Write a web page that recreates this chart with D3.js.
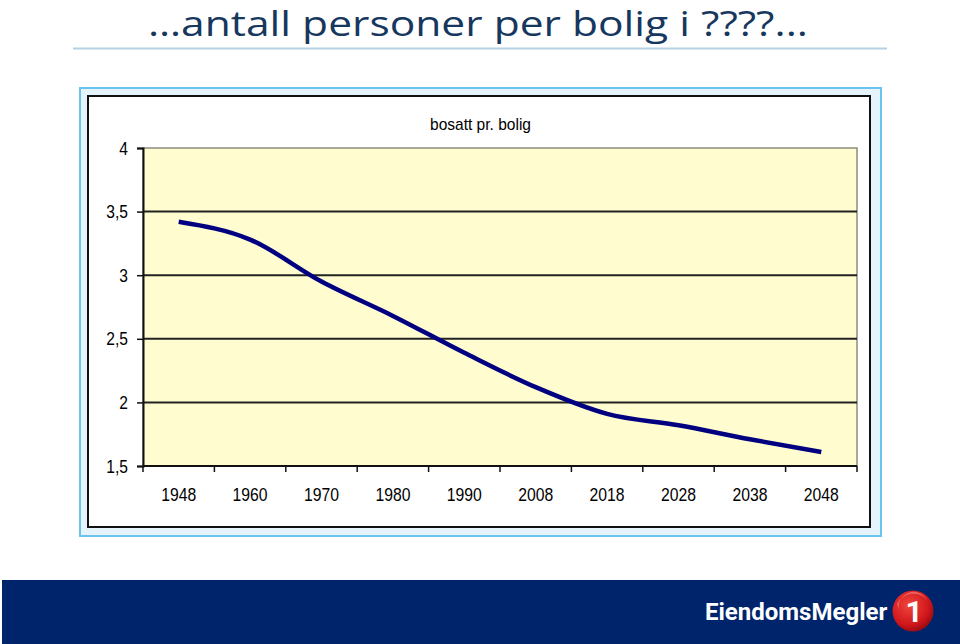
<!DOCTYPE html>
<html>
<head>
<meta charset="utf-8">
<script src="https://cdn.jsdelivr.net/npm/d3@7/dist/d3.min.js"></script>
<style>
  html, body { margin: 0; padding: 0; background: #ffffff; }
  svg { display: block; }
</style>
</head>
<body>
<svg id="chart" width="960" height="644"></svg>
<script>
// ---- data ----
const categories = ["1948", "1960", "1970", "1980", "1990", "2008", "2018", "2028", "2038", "2048"];
const bosattPrBolig = [3.42, 3.28, 2.95, 2.68, 2.39, 2.12, 1.91, 1.82, 1.71, 1.61];
const yTicks = [1.5, 2, 2.5, 3, 3.5, 4];
const seriesName = "bosatt pr. bolig";
const titleText = "…antall personer per bolig i ????...";

const svg = d3.select("#chart");

// ---- title ----
svg.append("text")
  .attr("x", 478).attr("y", 36)
  .attr("text-anchor", "middle")
  .attr("font-family", "'Open Sans', 'Noto Sans', sans-serif")
  .attr("font-size", 34)
  .attr("fill", "#17375E")
  .attr("textLength", 660)
  .attr("lengthAdjust", "spacingAndGlyphs")
  .text(titleText);

svg.append("line")
  .attr("x1", 73).attr("x2", 887).attr("y1", 48.5).attr("y2", 48.5)
  .attr("stroke", "#B3D3E4").attr("stroke-width", 2);

// ---- chart frame ----
svg.append("rect")
  .attr("x", 80).attr("y", 88).attr("width", 801).attr("height", 448)
  .attr("fill", "#E4F3FC").attr("stroke", "#6CC4EE").attr("stroke-width", 2);
svg.append("rect")
  .attr("x", 88).attr("y", 96).attr("width", 782).attr("height", 431)
  .attr("fill", "#ffffff").attr("stroke", "#111111").attr("stroke-width", 2);

// ---- scales ----
const x = d3.scaleBand().domain(categories).range([143, 857]).padding(0);
const y = d3.scaleLinear().domain([1.5, 4]).range([466, 148]);

// plot area
svg.append("rect")
  .attr("x", x.range()[0]).attr("y", y(4))
  .attr("width", x.range()[1] - x.range()[0]).attr("height", y(1.5) - y(4))
  .attr("fill", "#FFFDCF").attr("stroke", "#8C8C80").attr("stroke-width", 1.5);

// gridlines
svg.append("g").selectAll("line")
  .data(yTicks.filter(d => d > 1.5 && d < 4))
  .join("line")
  .attr("x1", x.range()[0]).attr("x2", x.range()[1])
  .attr("y1", d => y(d)).attr("y2", d => y(d))
  .attr("stroke", "#222222").attr("stroke-width", 2);

// y axis
const fmt = d => String(d).replace(".", ",");
const yAxis = svg.append("g")
  .attr("transform", `translate(${x.range()[0]},0)`)
  .call(d3.axisLeft(y).tickValues(yTicks).tickFormat(fmt).tickSize(6).tickPadding(9));
yAxis.select(".domain").attr("stroke", "#111").attr("stroke-width", 2);
yAxis.selectAll(".tick line").attr("stroke", "#111").attr("stroke-width", 1.5);
yAxis.selectAll(".tick text")
  .attr("font-family", "'Liberation Sans', Arial, sans-serif")
  .attr("font-size", 19).attr("fill", "#000")
  .each(function () {
    const w = this.getComputedTextLength();
    d3.select(this).attr("textLength", w * 0.82).attr("lengthAdjust", "spacingAndGlyphs");
  });

// x axis (ticks between categories)
const xAxisG = svg.append("g").attr("transform", `translate(0,${y(1.5)})`);
xAxisG.append("line")
  .attr("x1", x.range()[0]).attr("x2", x.range()[1])
  .attr("stroke", "#111").attr("stroke-width", 2);
const tickPos = categories.map(c => x(c)).concat([x.range()[1]]);
xAxisG.selectAll("line.tk").data(tickPos).join("line").attr("class", "tk")
  .attr("x1", d => d).attr("x2", d => d).attr("y1", 0).attr("y2", 6)
  .attr("stroke", "#111").attr("stroke-width", 1.5);
xAxisG.selectAll("text").data(categories).join("text")
  .attr("x", d => x(d) + x.bandwidth() / 2)
  .attr("y", 35)
  .attr("text-anchor", "middle")
  .attr("font-family", "'Liberation Sans', Arial, sans-serif")
  .attr("font-size", 19)
  .attr("textLength", 35)
  .attr("lengthAdjust", "spacingAndGlyphs")
  .attr("fill", "#000")
  .text(d => d);

// line
const line = d3.line()
  .x((d, i) => x(categories[i]) + x.bandwidth() / 2)
  .y(d => y(d))
  .curve(d3.curveMonotoneX);
svg.append("path")
  .datum(bosattPrBolig)
  .attr("d", line)
  .attr("fill", "none")
  .attr("stroke", "#000080")
  .attr("stroke-width", 4.5)
  .attr("stroke-linejoin", "round");

// legend text
svg.append("text")
  .attr("x", 430).attr("y", 130)
  .attr("font-family", "'Liberation Sans', Arial, sans-serif")
  .attr("font-size", 17)
  .attr("textLength", 101)
  .attr("lengthAdjust", "spacingAndGlyphs")
  .attr("fill", "#000")
  .text(seriesName);

// ---- bottom banner ----
svg.append("rect")
  .attr("x", 2).attr("y", 580).attr("width", 958).attr("height", 64)
  .attr("fill", "#00246B");
svg.append("text")
  .attr("x", 705).attr("y", 620)
  .attr("font-family", "Roboto, 'Open Sans', sans-serif")
  .attr("font-weight", "bold")
  .attr("font-size", 24)
  .attr("fill", "#ffffff")
  .text("EiendomsMegler");

// logo mark
const defs = svg.append("defs");
const grad = defs.append("radialGradient").attr("id", "redg")
  .attr("cx", "40%").attr("cy", "35%").attr("r", "70%");
grad.append("stop").attr("offset", "0%").attr("stop-color", "#F0463C");
grad.append("stop").attr("offset", "70%").attr("stop-color", "#D0161C");
grad.append("stop").attr("offset", "100%").attr("stop-color", "#8E0A10");
svg.append("circle").attr("cx", 913).attr("cy", 611).attr("r", 20.5)
  .attr("fill", "url(#redg)");
svg.append("path")
  .attr("d", "M897,604 A18,18 0 0,1 927,600 A15,15 0 0,0 899,610 Z")
  .attr("fill", "#F58A80").attr("opacity", 0.6);
svg.append("text")
  .attr("x", 914).attr("y", 622)
  .attr("text-anchor", "middle")
  .attr("font-family", "Roboto, sans-serif")
  .attr("font-weight", "bold")
  .attr("font-size", 30)
  .attr("fill", "#ffffff")
  .text("1");
</script>
</body>
</html>
